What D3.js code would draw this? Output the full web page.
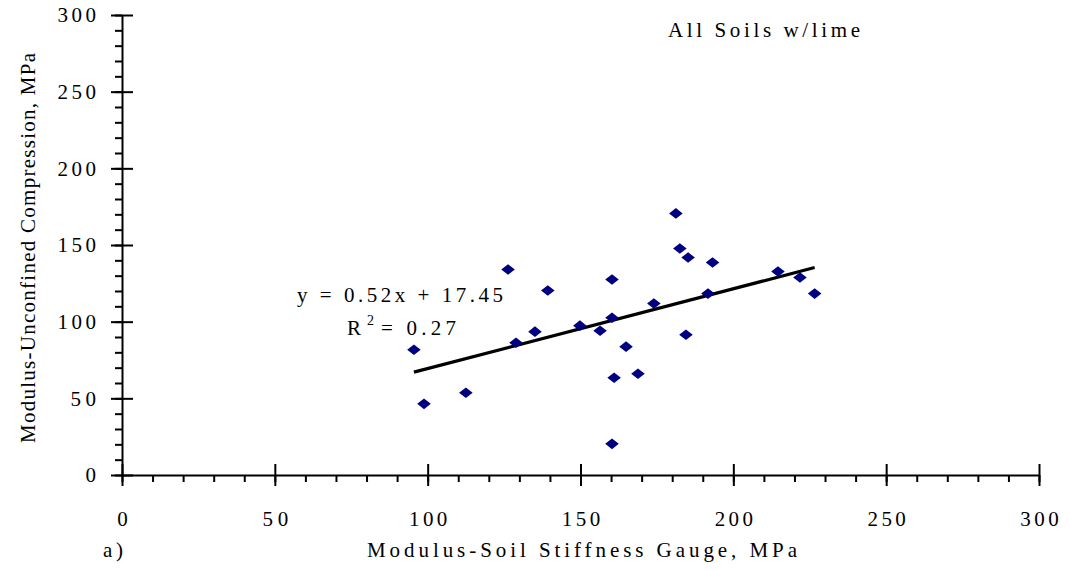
<!DOCTYPE html>
<html><head><meta charset="utf-8">
<script src="https://cdn.jsdelivr.net/npm/d3@7"></script>
<style>
html,body{margin:0;padding:0;background:#fff;}
svg text{font-family:"Liberation Serif","Times New Roman",serif;fill:#000;}
</style></head>
<body>
<svg id="chart" width="1070" height="571"></svg>
<script>
const xValues = [95.5, 98.8, 112.5, 126.3, 128.9, 135.1, 139.3, 149.8, 156.4, 160.3, 160.3, 161.0, 160.3, 164.9, 168.8, 174.0, 181.2, 182.5, 185.2, 184.5, 193.2, 191.7, 214.6, 221.8, 226.6];
const yValues = [81.7, 46.4, 53.6, 134.0, 86.3, 93.5, 120.3, 97.4, 94.1, 127.5, 102.6, 63.4, 20.3, 83.7, 66.0, 111.8, 170.6, 147.7, 141.8, 91.5, 138.6, 118.3, 132.7, 128.8, 118.3];
const slope = 0.52, intercept = 17.45, r2 = 0.27;
const majorTicks = [0, 50, 100, 150, 200, 250, 300];
const minorTicks = d3.range(0, 301, 10);
const xTitle = "Modulus-Soil Stiffness Gauge, MPa";
const yTitle = "Modulus-Unconfined Compression, MPa";
const chartNote = "All Soils w/lime";
const panelLabel = "a)";

const svg = d3.select("#chart");
const x = d3.scaleLinear().domain([0, 300]).range([122, 1039]);
const y = d3.scaleLinear().domain([0, 300]).range([475, 15]);

// minor ticks
const xMinor = svg.append("g").attr("transform", `translate(0,${y(0)})`)
  .call(d3.axisBottom(x).tickValues(minorTicks).tickSize(7).tickFormat(""));
const yMinor = svg.append("g").attr("transform", `translate(${x(0)},0)`)
  .call(d3.axisLeft(y).tickValues(minorTicks).tickSize(7).tickFormat(""));
[xMinor, yMinor].forEach(g => { g.select(".domain").remove(); g.selectAll("line").attr("stroke", "#000").attr("stroke-width", 2); });

// major axes
const xAxis = svg.append("g").attr("transform", `translate(0,${y(0)})`)
  .call(d3.axisBottom(x).tickValues(majorTicks).tickSizeInner(11).tickSizeOuter(0).tickPadding(25).tickFormat(d3.format("d")));
xAxis.selectAll(".tick line").attr("y1", -11);
const yAxis = svg.append("g").attr("transform", `translate(${x(0)},0)`)
  .call(d3.axisLeft(y).tickValues(majorTicks).tickSizeInner(11).tickSizeOuter(0).tickPadding(15).tickFormat(d3.format("d")));
yAxis.selectAll(".tick line").attr("x1", 11);
[xAxis, yAxis].forEach(g => {
  g.select(".domain").attr("stroke", "#000").attr("stroke-width", 2);
  g.selectAll(".tick line").attr("stroke", "#000").attr("stroke-width", 2);
  g.selectAll("text").attr("font-size", 21).attr("fill", "#000")
   .each(function(d){ const s = String(d); if (s.length > 1) d3.select(this).attr("textLength", s.length * 12.8).attr("lengthAdjust", "spacing"); });
});

// trendline
const xMin = d3.min(xValues), xMax = d3.max(xValues);
svg.append("line")
  .attr("x1", x(xMin)).attr("y1", y(slope * xMin + intercept))
  .attr("x2", x(xMax)).attr("y2", y(slope * xMax + intercept))
  .attr("stroke", "#000").attr("stroke-width", 3.2);

// points
const pts = xValues.map((v, i) => [v, yValues[i]]);
const diamond = d3.symbol().type(d3.symbolSquare).size(92);
svg.append("g").selectAll("path").data(pts).join("path")
  .attr("d", diamond)
  .attr("transform", d => `translate(${x(d[0])},${y(d[1])}) scale(1,0.78) rotate(45)`)
  .attr("fill", "#000080");

// texts
svg.append("text").attr("x", 297).attr("y", 302).attr("font-size", 21)
  .attr("textLength", 206).attr("lengthAdjust", "spacing").text(`y = ${slope}x + ${intercept}`);
svg.append("text").attr("x", 347).attr("y", 335).attr("font-size", 21).text("R");
svg.append("text").attr("x", 367).attr("y", 325).attr("font-size", 14).text("2");
svg.append("text").attr("x", 381).attr("y", 335).attr("font-size", 21)
  .attr("textLength", 75).attr("lengthAdjust", "spacing").text(`= ${r2}`);

svg.append("text").attr("x", 668).attr("y", 37).attr("font-size", 21)
  .attr("textLength", 192).attr("lengthAdjust", "spacing").text(chartNote);

svg.append("text").attr("x", 367).attr("y", 557).attr("font-size", 21)
  .attr("textLength", 430).attr("lengthAdjust", "spacing").text(xTitle);
svg.append("text").attr("x", 103).attr("y", 557).attr("font-size", 21)
  .attr("textLength", 20).attr("lengthAdjust", "spacing").text(panelLabel);

svg.append("text").attr("transform", "translate(35,443) rotate(-90)").attr("font-size", 21)
  .attr("textLength", 390).attr("lengthAdjust", "spacing").text(yTitle);
</script>
</body></html>
